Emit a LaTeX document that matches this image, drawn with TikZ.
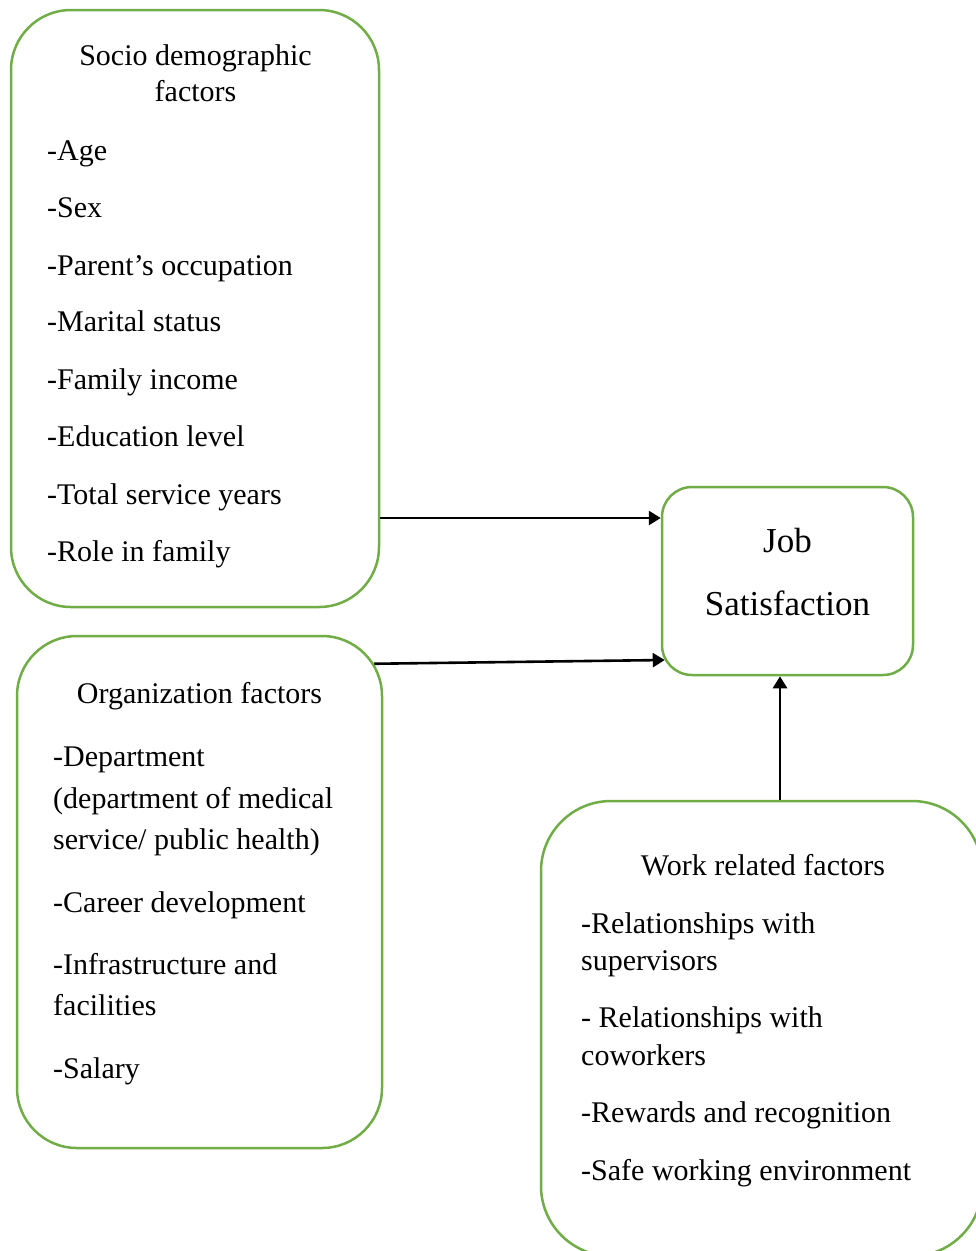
\documentclass[tikz,border=0pt]{standalone}
\usepackage{fontspec}
\setmainfont{Liberation Serif}
\usetikzlibrary{arrows.meta}
\definecolor{boxgreen}{RGB}{112,173,71}
\tikzset{
	factorbox/.style={draw=boxgreen, line width=2.5pt, rounded corners=#1, inner sep=0pt},
	factorbox/.default=60pt,
	item/.style={anchor=base west, inner sep=0pt, font=\fontsize{30}{37}\selectfont},
	head/.style={anchor=base, inner sep=0pt, font=\fontsize{30}{37}\selectfont},
	link/.style={line width=2.6pt, -{Triangle[length=12pt,width=14pt]}}
}
\begin{document}
\begin{tikzpicture}[x=1pt,y=-1pt]
		\useasboundingbox (0,0) rectangle (976,1251);
		\clip (0,0) rectangle (976,1251);
		
		\node (socio) at (195,308.5) [factorbox, minimum width=368pt, minimum height=597pt] {};
		\node (sociohead1) at (195.5,65) [head] {Socio demographic};
		\node (sociohead2) at (195.5,101) [head] {factors};
		\node (age) at (47,160) [item] {-Age};
		\node (sex) at (47,217) [item] {-Sex};
		\node (parent) at (47,275) [item] {-Parent’s occupation};
		\node (marital) at (47,331) [item] {-Marital status};
		\node (income) at (47,389) [item] {-Family income};
		\node (edu) at (47,446) [item] {-Education level};
		\node (service) at (47,504) [item] {-Total service years};
		\node (role) at (47,561) [item] {-Role in family};
		
		\node (org) at (199.5,892) [factorbox, minimum width=365pt, minimum height=512pt] {};
		\node (orghead) at (199.5,703) [head] {Organization factors};
		\node (dept1) at (53,766) [item] {-Department};
		\node (dept2) at (53,808) [item] {(department of medical};
		\node (dept3) at (53,849) [item] {service/ public health)};
		\node (career) at (53,912) [item] {-Career development};
		\node (infra1) at (53,974) [item] {-Infrastructure and};
		\node (infra2) at (53,1015) [item] {facilities};
		\node (salary) at (53,1078) [item] {-Salary};
		
		\node (job) at (787.5,581) [factorbox=30pt, minimum width=251pt, minimum height=188pt] {};
		\node (jobhead1) at (787.5,552) [head, font=\fontsize{35}{42}\selectfont] {Job};
		\node (jobhead2) at (787.5,615) [head, font=\fontsize{35}{42}\selectfont] {Satisfaction};
		
		\node (work) at (761.5,1028.5) [factorbox=70pt, minimum width=441pt, minimum height=455pt] {};
		\node (workhead) at (763,875) [head] {Work related factors};
		\node (super1) at (581,933) [item] {-Relationships with};
		\node (super2) at (581,970) [item] {supervisors};
		\node (cowork1) at (581,1027) [item] {- Relationships with};
		\node (cowork2) at (581,1065) [item] {coworkers};
		\node (reward) at (581,1122) [item] {-Rewards and recognition};
		\node (safe) at (581,1180) [item] {-Safe working environment};
		
		\draw [link] ([yshift=-209.5pt]socio.east) -- ([yshift=63pt]job.west);
		\draw [link] ([xshift=-9pt,yshift=-29pt]org.north east) -- ([xshift=4pt,yshift=-79pt]job.west);
		\draw [link] ([xshift=18.5pt]work.north) -- ([xshift=-7.5pt]job.south);
\end{tikzpicture}
\end{document}
